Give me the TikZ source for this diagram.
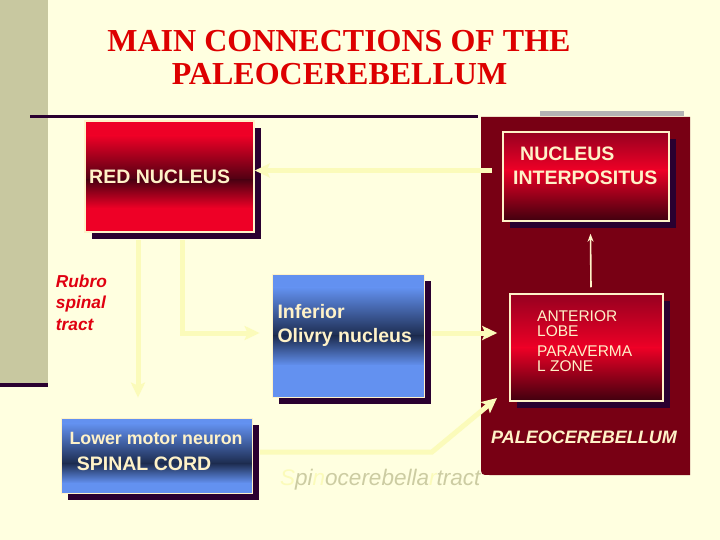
\documentclass[tikz,border=0pt]{standalone}
\usepackage{fontspec}
\setmainfont{Liberation Serif}
\newfontfamily\arial{Liberation Sans}
\usetikzlibrary{arrows.meta,shadows,calc}
\definecolor{bg}{HTML}{FFFFE0}
\definecolor{strip}{HTML}{C8C8A0}
\definecolor{shad}{HTML}{2A0030}
\definecolor{panelc}{HTML}{780014}
\definecolor{pale}{HTML}{FBFBBA}
\definecolor{cream}{HTML}{FFF2C8}
\definecolor{titler}{HTML}{DD0000}
\definecolor{redB}{HTML}{EE0026}
\definecolor{redD}{HTML}{4C0012}
\definecolor{niTop}{HTML}{960020}
\definecolor{niBot}{HTML}{3E000E}
\definecolor{blueL}{HTML}{6391F0}
\definecolor{blueD}{HTML}{1C2B4E}
\definecolor{greybar}{HTML}{B4B4B4}
\definecolor{outc}{HTML}{CCCCA2}
\definecolor{rubro}{HTML}{E00010}
% gradient inside a node: c1 solid to a, c1->c2 to m, c2->c3 to b, c3 solid to bottom
\newcommand\gradfill[6]{%
  \coordinate (gNW) at (path picture bounding box.north west);
  \coordinate (gNE) at (path picture bounding box.north east);
  \coordinate (gSW) at (path picture bounding box.south west);
  \coordinate (gSE) at (path picture bounding box.south east);
  \fill[#1] (gNW) rectangle ($(gNE)!#4!(gSE)+(0,-0.6pt)$);
  \shade[top color=#1, bottom color=#2] ($(gNW)!#4!(gSW)$) rectangle ($(gNE)!#5!(gSE)+(0,-0.6pt)$);
  \shade[top color=#2, bottom color=#3] ($(gNW)!#5!(gSW)$) rectangle ($(gNE)!#6!(gSE)+(0,-0.6pt)$);
  \fill[#3] ($(gNW)!#6!(gSW)$) rectangle (gSE);
}
\tikzset{
  boxbase/.style={rectangle, inner sep=0pt, draw=cream, line width=1.5pt,
    drop shadow={shadow xshift=7pt, shadow yshift=-7pt, fill=shad, opacity=1}},
  redbox/.style={boxbase, path picture={\gradfill{redB}{redD}{redB}{0.13}{0.53}{0.78}}},
  nibox/.style={boxbase, path picture={\gradfill{niTop}{redB}{niBot}{0}{#1}{1}}},
  bluebox/.style={boxbase, line width=0.8pt},
  lbl/.style={anchor=base west, inner sep=0pt, text=cream, font=\arial\bfseries\fontsize{19.5}{20}\selectfont},
  lblsm/.style={anchor=base west, inner sep=0pt, text=cream, font=\arial\fontsize{15.5}{16}\selectfont},
  rubrolbl/.style={anchor=base west, inner sep=0pt, text=rubro, font=\arial\bfseries\itshape\fontsize{17.3}{18}\selectfont},
  titlelbl/.style={anchor=base, inner sep=0pt, text=titler, font=\bfseries\fontsize{32}{34}\selectfont},
  fat/.style={draw=pale, line width=5pt, -{Stealth[length=15pt,width=14pt,inset=3pt]}},
  slim/.style={draw=cream, line width=1.6pt, -{Stealth[length=8pt,width=6pt]}}
}
\begin{document}
\begin{tikzpicture}[x=1pt,y=-1pt]
\useasboundingbox (0,0) rectangle (720,540);
\fill[bg] (0,0) rectangle (720,540);
% left strip
\fill[strip] (0,0) rectangle (48,383);
\fill[shad] (0,383) rectangle (48,387);
% title
\node[titlelbl] (t1) at (339,52) {MAIN CONNECTIONS OF THE};
\node[titlelbl] (t2) at (339.5,85) {PALEOCEREBELLUM};
% rules
\draw[shad, line width=3pt] (30,117) -- (478,117);
\fill[greybar] (540,111) rectangle (684,116);
% panel
\fill[panelc] (481,117) -- (690,117) -- (690,475) -- (490,475) .. controls (481,475) .. (481,466) -- cycle;
\node[inner sep=0pt, minimum width=209pt, minimum height=358pt] (panel) at (585.5,296) {};
% boxes
\node[redbox, minimum width=169pt, minimum height=111pt] (rn) at (169.5,176.5) {};
\node[nibox=0.42, minimum width=166pt, minimum height=89pt] (ni) at (586,176.5) {};
\node[nibox=0.5, minimum width=153pt, minimum height=107pt] (al) at (586.5,347.5) {};
\node[bluebox, path picture={\gradfill{blueL}{blueD}{blueL}{0.11}{0.5}{0.74}}, minimum width=152pt, minimum height=123pt] (inf) at (348,335.5) {};
\node[bluebox, path picture={\gradfill{blueL}{blueD}{blueL}{0.07}{0.6}{0.86}}, minimum width=191pt, minimum height=75pt] (lm) at (156.5,455.5) {};
% texts in boxes
\node[lbl] (rnt) at (89,183.3) {RED NUCLEUS};
\node[lbl] (nit1) at (520,161) {NUCLEUS};
\node[lbl] (nit2) at (513,185) {INTERPOSITUS};
\node[lblsm] (alt1) at (537,321) {ANTERIOR};
\node[lblsm] (alt2) at (537,336) {LOBE};
\node[lblsm] (alt3) at (537,356) {PARAVERMA};
\node[lblsm] (alt4) at (537,371) {L ZONE};
\node[lbl] (inft1) at (277.3,318.3) {Inferior};
\node[lbl] (inft2) at (277.3,342.7) {Olivry nucleus};
\node[lbl, font=\arial\bfseries\fontsize{17.8}{18}\selectfont] (lmt1) at (69.3,444) {Lower motor neuron};
\node[lbl] (lmt2) at (76.7,470) {SPINAL CORD};
\node[lbl, font=\arial\bfseries\itshape\fontsize{18}{18}\selectfont] (pct) at (491,443.5) {PALEOCEREBELLUM};
% side labels
\node[rubrolbl] (rb1) at (55.7,287.3) {Rubro};
\node[rubrolbl] (rb2) at (55.7,308.3) {spinal};
\node[rubrolbl] (rb3) at (55.7,330) {tract};
\node[anchor=base west, inner sep=0pt, font=\arial\itshape\fontsize{22.5}{23}\selectfont] (spt) at (280,485)
  {\textcolor{pale}{S}\textcolor{outc}{pi}\textcolor{pale}{n}\textcolor{outc}{ocerebella}\textcolor{pale}{r}\textcolor{outc}{ tract}};
% connector coordinates
\coordinate (niA) at (492,170.5);
\coordinate (rnA) at (138,240);
\coordinate (rnB) at (182,240);
\coordinate (rnBb) at (182,333);
\coordinate (infA) at (432,333);
\coordinate (spA) at (260,452);
\coordinate (spB) at (432,452);
\coordinate (spTip) at (497,398);
% connectors
\draw[fat] (niA) -- (niA -| rn.east);
\draw[fat, shorten >=20pt] (rnA) -- (rnA |- lm.north);
\draw[fat, shorten >=12pt] (rnB) -- (rnBb) -- (rnBb -| inf.west);
\draw[fat, shorten >=12pt] (infA) -- (infA -| al.west);
\draw[fat] (spA) -- (spB) -- (spTip);
\draw[slim] ([xshift=4.5pt,yshift=6pt]al.north) -- ([xshift=4.5pt,yshift=-12pt]ni.south);
\end{tikzpicture}
\end{document}
